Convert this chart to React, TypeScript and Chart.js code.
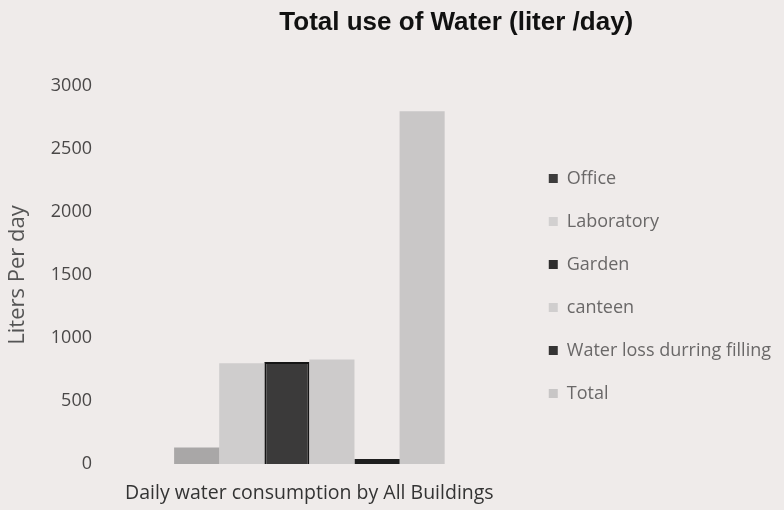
import React, { useEffect, useRef } from "react";
import { Chart, registerables } from "chart.js";

Chart.register(...registerables);

const categories = ["Daily water consumption by All Buildings"];
const seriesNames = ["Office", "Laboratory", "Garden", "canteen", "Water loss durring filling", "Total"];
const seriesValues = [[130], [800], [810], [830], [40], [2800]];
const seriesColors = ["#a9a7a7", "#cfcdcd", "#3b3a3a", "#cdcbcb", "#1e1e1e", "#c9c7c7"];
const legendBoxColors = ["#3d3c3c", "#d2d0d0", "#2f2e2e", "#d0cece", "#353434", "#c8c6c6"];
const yTicks = [0, 500, 1000, 1500, 2000, 2500, 3000];
const titleText = "Total use of Water (liter /day)";
const yTitle = "Liters Per day";

const BG = "#efebea";
const FONT = "'Open Sans', Lato, sans-serif";

const titlePlugin = {
  id: "customTitle",
  afterDraw(chart: any) {
    const ctx = chart.ctx;
    ctx.save();
    ctx.font = "bold 26px 'Liberation Sans', Arial, sans-serif";
    ctx.fillStyle = "#111";
    ctx.textAlign = "center";
    ctx.textBaseline = "middle";
    ctx.fillText(titleText, chart.width * 0.582, 23);
    ctx.restore();
  },
};

export default function App() {
  const ref = useRef<HTMLCanvasElement | null>(null);
  useEffect(() => {
    if (!ref.current) return;
    const chart = new Chart(ref.current, {
      type: "bar",
      data: {
        labels: categories,
        datasets: seriesNames.map((name, i) => ({
          label: name,
          data: seriesValues[i],
          backgroundColor: seriesColors[i],
          borderColor: i === 2 || i === 4 ? "#151515" : seriesColors[i],
          borderWidth: i === 2 ? 2 : 0,
          barPercentage: 1,
          categoryPercentage: 0.631,
        })),
      },
      options: {
        animation: false,
        responsive: false,
        maintainAspectRatio: false,
        layout: { padding: { left: 4, top: 86, bottom: 2, right: 3 } },
        plugins: {
          title: { display: false },
          tooltip: { enabled: false },
          legend: {
            position: "right",
            align: "start",
            maxWidth: 300,
            title: {
              display: true,
              text: "",
              font: { size: 12 },
              padding: { top: 44, bottom: 0 },
            },
            labels: {
              color: "#6a6868",
              font: { family: FONT, size: 18 },
              boxWidth: 9,
              boxHeight: 9,
              padding: 25,
              generateLabels: (c: any) =>
                c.data.datasets.map((d: any, i: number) => ({
                  text: d.label,
                  fillStyle: legendBoxColors[i],
                  strokeStyle: legendBoxColors[i],
                  lineWidth: 0,
                  hidden: false,
                  datasetIndex: i,
                  fontColor: "#6a6868",
                })),
            },
          },
        },
        scales: {
          x: {
            afterFit: (s: any) => {
              s.height = 44;
            },
            grid: { display: false, drawTicks: false },
            border: { display: false },
            ticks: {
              color: "#333",
              padding: 18,
              maxRotation: 0,
              minRotation: 0,
              autoSkip: true,
              font: { family: FONT, size: 19.5 },
            },
          },
          y: {
            min: 0,
            max: 3000,
            afterFit: (s: any) => {
              s.width = 91;
            },
            afterBuildTicks: (s: any) => {
              s.ticks = yTicks.map((v) => ({ value: v }));
            },
            grid: { display: false, drawTicks: false },
            border: { display: false },
            ticks: {
              color: "#4a4848",
              padding: 3,
              callback: (v: any) => String(v),
              font: { family: FONT, size: 18 },
            },
            title: {
              display: true,
              text: yTitle,
              color: "#555",
              padding: 1,
              font: { family: FONT, size: 22 },
            },
          },
        },
      },
      plugins: [titlePlugin],
    });
    return () => chart.destroy();
  }, []);
  return (
    <div style={{ position: "fixed", left: 0, top: 0, width: 784, height: 510, background: BG }}>
      <canvas ref={ref} width={784} height={510} />
    </div>
  );
}
